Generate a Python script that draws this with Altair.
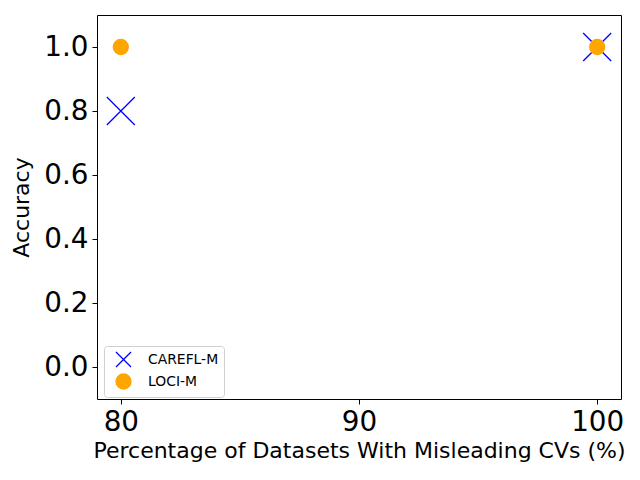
import altair as alt
import pandas as pd

series = ["CAREFL-M", "CAREFL-M", "LOCI-M", "LOCI-M"]
pct = [80, 100, 80, 100]
acc = [0.8, 1.0, 1.0, 1.0]
order = [0, 1, 2, 3]
sizes = [784, 784, 225, 225]

df = pd.DataFrame({"series": series, "pct": pct, "acc": acc, "order": order, "sz": sizes})

dom = ["CAREFL-M", "LOCI-M"]
xpath = "M-1,-1L1,1M-1,1L1,-1"

chart = alt.Chart(df).mark_point(filled=False, strokeWidth=1.3, opacity=1).encode(
    x=alt.X("pct:Q", scale=alt.Scale(domain=[79, 101], nice=False, zero=False),
            axis=alt.Axis(values=[80, 90, 100], title="Percentage of Datasets With Misleading CVs (%)")),
    y=alt.Y("acc:Q", scale=alt.Scale(domain=[-0.1, 1.1], nice=False),
            axis=alt.Axis(values=[0.0, 0.2, 0.4, 0.6, 0.8, 1.0], format=".1f", title="Accuracy")),
    shape=alt.Shape("series:N", scale=alt.Scale(domain=dom, range=[xpath, "circle"]), title=None),
    stroke=alt.Stroke("series:N", scale=alt.Scale(domain=dom, range=["blue", "orange"]), title=None),
    fill=alt.Fill("series:N", scale=alt.Scale(domain=dom, range=["transparent", "orange"]), title=None),
    size=alt.Size("sz:Q", scale=None, legend=None),
    order=alt.Order("order:Q"),
).properties(
    width=524, height=384,
    autosize=alt.AutoSizeParams(type="none"),
    padding={"left": 89, "top": 7, "right": 11, "bottom": 73},
).configure_view(
    stroke="black", strokeWidth=1
).configure_axis(
    domain=False, grid=False, ticks=True, tickColor="black", tickSize=5, tickWidth=1,
    labelFont="DejaVu Sans", labelFontSize=27.8, labelColor="black", labelPadding=4,
    titleFont="DejaVu Sans", titleFontSize=22, titleFontWeight="normal", titleColor="black",
).configure_axisX(titlePadding=5).configure_axisY(titlePadding=10).configure_legend(
    orient="none", legendX=7, legendY=331,
    labelFont="DejaVu Sans", labelFontSize=13.9, labelColor="black",
    symbolSize=225, symbolStrokeWidth=1.3, symbolOffset=6,
    strokeColor="#d0d0d0", cornerRadius=3, padding=5, fillColor="white",
    rowPadding=1, labelOffset=16,
)

chart.save("out.html", embed_options={"renderer": "svg", "actions": False})
